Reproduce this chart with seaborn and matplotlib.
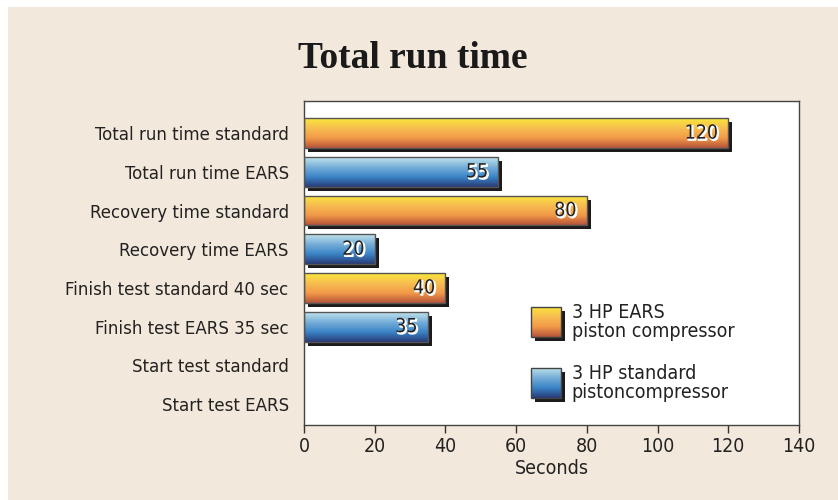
import matplotlib
matplotlib.use('Agg')
import matplotlib.pyplot as plt
import matplotlib.patheffects as pe
import matplotlib.transforms as mtransforms
from matplotlib.colors import LinearSegmentedColormap
from matplotlib.patches import Rectangle
import seaborn as sns
import numpy as np
import pandas as pd

categories = ['Total run time standard', 'Total run time EARS',
              'Recovery time standard', 'Recovery time EARS',
              'Finish test standard 40 sec', 'Finish test EARS 35 sec',
              'Start test standard', 'Start test EARS']
seconds = [120, 55, 80, 20, 40, 35, 0, 0]
series = ['orange', 'blue', 'orange', 'blue', 'orange', 'blue', 'orange', 'blue']
legend_labels = ['3 HP EARS\npiston compressor', '3 HP standard\npistoncompressor']
x_ticks = [0, 20, 40, 60, 80, 100, 120, 140]

BG = '#F3E8DC'
grads = {
    'orange': LinearSegmentedColormap.from_list('o', ['#FAE83A', '#F7BE50', '#F29A48', '#B4533A']),
    'blue': LinearSegmentedColormap.from_list('b', ['#C2E4EC', '#78AFD8', '#3A84C6', '#283A76']),
}
base = {'orange': '#F3A24C', 'blue': '#3F8BCB'}

sns.set_theme(style='white')
plt.rcParams['font.family'] = ['DejaVu Sans']
plt.rcParams['font.stretch'] = 'condensed'

fig = plt.figure(figsize=(8.38, 5.0), dpi=100, facecolor='white')
fig.patches.append(Rectangle((8 / 838, 0), 1, 1 - 7 / 500, transform=fig.transFigure,
                             facecolor=BG, edgecolor='none', zorder=-10))
ax = fig.add_axes([304 / 838, 75 / 500, 495 / 838, 324 / 500])
ax.set_facecolor('white')

df = pd.DataFrame({'label': categories, 'seconds': seconds, 'series': series})
sns.barplot(data=df, y='label', x='seconds', hue='series', dodge=False, orient='h',
            palette=base, width=0.77, legend=False, ax=ax)

ax.set_xlim(0, 140)
ax.set_ylim(7.54, -0.83)
shadow_tr = mtransforms.offset_copy(ax.transData, fig, x=4, y=-4, units='dots')
grad_img = np.linspace(0, 1, 256).reshape(-1, 1)

for p in list(ax.patches):
    w = p.get_width()
    if not np.isfinite(w) or w <= 0:
        continue
    x0, y0, h = p.get_x(), p.get_y(), p.get_height()
    fc = p.get_facecolor()
    key = 'orange' if fc[0] > fc[2] else 'blue'
    ax.add_patch(Rectangle((x0, y0), w, h, transform=shadow_tr, facecolor='#1c1a1a',
                           edgecolor='none', zorder=1))
    im = ax.imshow(grad_img, cmap=grads[key], aspect='auto', origin='upper',
                   extent=(x0, x0 + w, y0 + h, y0), zorder=2, interpolation='bilinear')
    im.set_clip_path(p)
    p.set_facecolor('none')
    p.set_edgecolor('#555555')
    p.set_linewidth(1.0)
    p.set_zorder(3)
    ax.text(x0 + w - 2.9, y0 + h / 2, f'{w:.0f}', ha='right', va='center',
            fontsize=14, color='#222222', zorder=4,
            path_effects=[pe.Stroke(linewidth=1.2, foreground='white', offset=(1, -1)),
                          pe.Normal()])

ax.set_xticks(x_ticks)
ax.tick_params(axis='x', direction='out', length=6, width=1, color='#333333',
               labelsize=14, labelcolor='#222222', pad=3, bottom=True)
ax.tick_params(axis='y', length=0, labelsize=13.3, labelcolor='#222222', pad=11)
ax.set_xlabel('Seconds', fontsize=14, color='#222222', labelpad=2)
ax.set_ylabel('')
for s in ax.spines.values():
    s.set_visible(True)
    s.set_color('#444444')
    s.set_linewidth(1.0)

# legend
legend_y = [0.318, 0.130]
for key, lab, yc in zip(['orange', 'blue'], legend_labels, legend_y):
    lx, lw, lh = 0.4586, 0.0606, 0.0926
    ax.add_patch(Rectangle((lx, yc - lh / 2), lw, lh,
                           transform=mtransforms.offset_copy(ax.transAxes, fig, x=4, y=-4, units='dots'),
                           facecolor='#1c1a1a', edgecolor='none', zorder=5))
    sq = Rectangle((lx, yc - lh / 2), lw, lh, transform=ax.transAxes, facecolor='none',
                   edgecolor='#444444', linewidth=1.0, zorder=7)
    ax.add_patch(sq)
    im = ax.imshow(grad_img, cmap=grads[key], aspect='auto', origin='upper',
                   extent=(lx, lx + lw, yc - lh / 2, yc + lh / 2), transform=ax.transAxes,
                   zorder=6)
    im.set_clip_path(sq)
    ax.text(0.541, yc, lab, transform=ax.transAxes, ha='left', va='center',
            fontsize=14, color='#222222', linespacing=0.95, zorder=8)

ax.set_xlim(0, 140)
ax.set_ylim(7.54, -0.83)

fig.text(413 / 838, 1 - 59 / 500, 'Total run time', ha='center', va='center',
         fontsize=27, fontweight='bold', family='Liberation Serif', stretch='normal',
         color='#1a1a1a')

fig.savefig('out.png', dpi=100, facecolor=fig.get_facecolor())
